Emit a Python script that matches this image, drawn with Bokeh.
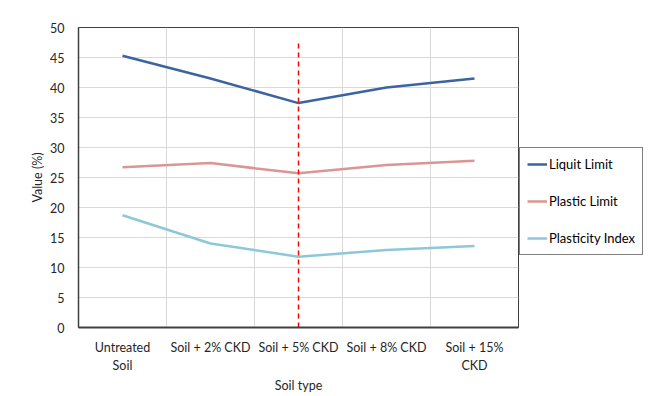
from bokeh.plotting import figure
from bokeh.models import FixedTicker, Legend, LegendItem, Range1d
from bokeh.embed import file_html
from bokeh.resources import INLINE

categories = ["Untreated Soil", "Soil + 2% CKD", "Soil + 5% CKD", "Soil + 8% CKD", "Soil + 15% CKD"]
tick_labels = ["Untreated\nSoil", "Soil + 2% CKD", "Soil + 5% CKD", "Soil + 8% CKD", "Soil + 15%\nCKD"]
liquid_limit = [45.3, 41.5, 37.4, 40.0, 41.5]
plastic_limit = [26.7, 27.4, 25.7, 27.1, 27.8]
plasticity_index = [18.7, 14.0, 11.8, 12.9, 13.6]
y_ticks = [0, 5, 10, 15, 20, 25, 30, 35, 40, 45, 50]
marker_category = "Soil + 5% CKD"
marker_top = 47.5

FONT = "Lato"
x = list(range(1, len(categories) + 1))

p = figure(width=644, height=394, output_backend="svg", toolbar_location=None,
           x_range=Range1d(0.5, len(categories) + 0.5), y_range=Range1d(0, 50),
           min_border_left=78, min_border_right=126, min_border_top=27, min_border_bottom=67)
p.frame_width = 440
p.frame_height = 300

p.outline_line_color = "#404040"
p.outline_line_width = 1

p.xaxis.ticker = FixedTicker(ticks=x)
p.xaxis.major_label_overrides = {i: lab for i, lab in zip(x, tick_labels)}
p.xgrid.ticker = FixedTicker(ticks=[i + 0.5 for i in x[:-1]])
p.yaxis.ticker = FixedTicker(ticks=y_ticks)
p.ygrid.ticker = FixedTicker(ticks=y_ticks)
for g in (p.xgrid, p.ygrid):
    g.grid_line_color = "#D9D9D9"
    g.grid_line_width = 1

for ax in (p.xaxis, p.yaxis):
    ax.major_tick_line_color = None
    ax.minor_tick_line_color = None
    ax.major_tick_out = 0
    ax.major_label_text_font = FONT
    ax.major_label_text_font_size = "12.5px"
    ax.major_label_text_color = "#262626"
    ax.axis_label_text_font = FONT
    ax.axis_label_text_font_size = "12.5px"
    ax.axis_label_text_font_style = "normal"
    ax.axis_label_text_color = "#262626"
    ax.axis_line_color = "#404040"

p.xaxis.axis_line_width = 2
p.yaxis.axis_line_width = 1.5
p.xaxis.major_label_standoff = 12
p.yaxis.major_label_standoff = 14
p.xaxis.axis_label = "Soil type"
p.yaxis.axis_label = "Value (%)"
p.xaxis.axis_label_standoff = 2
p.yaxis.axis_label_standoff = 2

r1 = p.line(x, liquid_limit, line_color="#3B64A0", line_width=2.5)
r2 = p.line(x, plastic_limit, line_color="#DA9694", line_width=2.5)
r3 = p.line(x, plasticity_index, line_color="#8DC8D8", line_width=2.5)

mx = x[categories.index(marker_category)]
p.segment(x0=[mx], y0=[0], x1=[mx], y1=[marker_top], line_color="#FF0000",
          line_width=1.5, line_dash="5 4")

legend = Legend(items=[LegendItem(label="Liquit Limit", renderers=[r1]),
                       LegendItem(label="Plastic Limit", renderers=[r2]),
                       LegendItem(label="Plasticity Index", renderers=[r3])],
                location=(1, 72))
legend.border_line_color = "#000000"
legend.border_line_width = 1
legend.background_fill_alpha = 1
legend.label_text_font = FONT
legend.label_text_font_size = "13px"
legend.label_text_color = "#000000"
legend.glyph_width = 20
legend.glyph_height = 18
legend.label_height = 18
legend.label_standoff = 2
legend.spacing = 19
legend.padding = 7
legend.margin = 0
legend.label_text_baseline = "middle"
p.add_layout(legend, "right")

open("out.html", "w").write(file_html(p, INLINE))
